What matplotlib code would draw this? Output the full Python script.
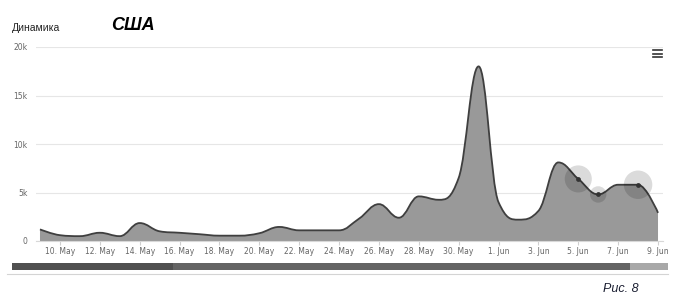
import numpy as np
import pandas as pd
import matplotlib
matplotlib.use("Agg")
import matplotlib.pyplot as plt
import matplotlib.dates as mdates
from matplotlib.path import Path
from matplotlib.patches import PathPatch, Rectangle
from matplotlib.lines import Line2D

# daily counts, 9 May .. 9 Jun
start_date = "2020-05-09"
values = [1200, 600, 500, 850, 500, 1850, 1000, 850, 700, 550, 550,
          800, 1450, 1100, 1100, 1100, 2300, 3800, 2400, 4600, 4250,
          6500, 18000, 4000, 2200, 3100, 8100, 6400, 4800, 5800, 5800, 2900]
tick_dates = ["2020-05-10", "2020-05-12", "2020-05-14", "2020-05-16", "2020-05-18",
              "2020-05-20", "2020-05-22", "2020-05-24", "2020-05-26", "2020-05-28",
              "2020-05-30", "2020-06-01", "2020-06-03", "2020-06-05", "2020-06-07",
              "2020-06-09"]
tick_labels = ["10. May", "12. May", "14. May", "16. May", "18. May", "20. May",
               "22. May", "24. May", "26. May", "28. May", "30. May", "1. Jun",
               "3. Jun", "5. Jun", "7. Jun", "9. Jun"]
y_ticks = [0, 5000, 10000, 15000, 20000]
y_labels = ["0", "5k", "10k", "15k", "20k"]
hover_dates = ["2020-06-05", "2020-06-06", "2020-06-08"]
hover_sizes = [380, 140, 420]


def spline_verts(xs, ys, smoothing=1.5):
    # highcharts-like spline: bezier control points, clamped so no overshoot
    n = len(xs)
    denom = smoothing + 1
    lc = [None] * n
    rc = [None] * n
    for i in range(1, n - 1):
        px, py = xs[i], ys[i]
        lx, ly = xs[i - 1], ys[i - 1]
        nx, ny = xs[i + 1], ys[i + 1]
        lcx = (smoothing * px + lx) / denom
        lcy = (smoothing * py + ly) / denom
        rcx = (smoothing * px + nx) / denom
        rcy = (smoothing * py + ny) / denom
        corr = (rcy - lcy) * (rcx - px) / (rcx - lcx) + py - rcy
        lcy += corr
        rcy += corr
        if lcy > ly and lcy > py:
            lcy = max(ly, py)
            rcy = 2 * py - lcy
        elif lcy < ly and lcy < py:
            lcy = min(ly, py)
            rcy = 2 * py - lcy
        if rcy > ny and rcy > py:
            rcy = max(ny, py)
            lcy = 2 * py - rcy
        elif rcy < ny and rcy < py:
            rcy = min(ny, py)
            lcy = 2 * py - rcy
        lc[i] = (lcx, lcy)
        rc[i] = (rcx, rcy)
    verts = [(xs[0], ys[0])]
    codes = [Path.MOVETO]
    for i in range(1, n):
        r = rc[i - 1] if rc[i - 1] else (xs[i - 1], ys[i - 1])
        l = lc[i] if lc[i] else (xs[i], ys[i])
        verts += [r, l, (xs[i], ys[i])]
        codes += [Path.CURVE4] * 3
    return verts, codes


dates = pd.date_range(start_date, periods=len(values), freq="D")
x = mdates.date2num(dates)
y = np.array(values, dtype=float)

fig = plt.figure(figsize=(6.73, 3.02), dpi=100)
W, H = 673, 302
ax = fig.add_axes([36 / W, (H - 241) / H, (663 - 36) / W, (241 - 47) / H])

verts, codes = spline_verts(list(x), list(y))
fill_verts = verts + [(x[-1], 0), (x[0], 0), (x[0], y[0])]
fill_codes = codes + [Path.LINETO, Path.LINETO, Path.CLOSEPOLY]
ax.add_patch(PathPatch(Path(fill_verts, fill_codes), facecolor="#999999",
                       edgecolor="none", zorder=2))
ax.add_patch(PathPatch(Path(verts, codes), facecolor="none",
                       edgecolor="#3f3f3f", lw=1.3, zorder=3))

# hover halos + points
hx = mdates.date2num(pd.to_datetime(hover_dates))
hy = [y[list(x).index(v)] for v in hx]
ax.scatter(hx, hy, s=hover_sizes, color="black", alpha=0.14, lw=0, zorder=4)
ax.scatter(hx, hy, s=12, color="#333333", lw=0, zorder=5)

ax.set_xlim(x[0] - 0.2, x[-1] + 0.25)
ax.set_ylim(0, 20000)
ax.set_xticks(mdates.date2num(pd.to_datetime(tick_dates)))
ax.set_xticklabels(tick_labels)
ax.set_yticks(y_ticks)
ax.set_yticklabels(y_labels)
ax.grid(axis="y", color="#e6e6e6", lw=0.8, zorder=0)
ax.tick_params(axis="x", length=3, color="#d0d0d0", labelsize=5.5,
               labelcolor="#666666", pad=1)
ax.tick_params(axis="y", length=0, labelsize=5.5, labelcolor="#666666", pad=6)
for s in ["top", "right", "left"]:
    ax.spines[s].set_visible(False)
ax.spines["bottom"].set_color("#d8d8d8")
ax.spines["bottom"].set_linewidth(0.8)

# titles
fig.text(12 / W, 1 - 28 / H, "Динамика", fontsize=7.5, color="#222222",
         family="Liberation Sans", va="center", ha="left")
fig.text(111 / W, 1 - 26 / H, "США", fontsize=13, fontweight="bold",
         style="italic", color="black", family=["Liberation Sans", "DejaVu Sans"],
         va="center", ha="left")
fig.text(603 / W, 1 - 289 / H, "Рис. 8", fontsize=9, style="italic",
         color="#1c2033", family=["Liberation Sans", "DejaVu Sans"],
         va="center", ha="left")

# menu icon
for yy in [50, 53.5, 57]:
    fig.add_artist(Line2D([653 / W, 662 / W], [1 - yy / H, 1 - yy / H],
                          color="#333333", lw=1.2))

# navigator scrollbar
fig.add_artist(Rectangle((12 / W, 1 - 270 / H), (173 - 12) / W, 7 / H,
                         color="#505050", lw=0))
fig.add_artist(Rectangle((173 / W, 1 - 270 / H), (630 - 173) / W, 7 / H,
                         color="#646464", lw=0))
fig.add_artist(Rectangle((630 / W, 1 - 270 / H), (668 - 630) / W, 7 / H,
                         color="#a8a8a8", lw=0))
fig.add_artist(Line2D([7 / W, 668 / W], [1 - 273.5 / H, 1 - 273.5 / H],
                      color="#d4d4d4", lw=0.8))

fig.savefig("out.png", dpi=100)
